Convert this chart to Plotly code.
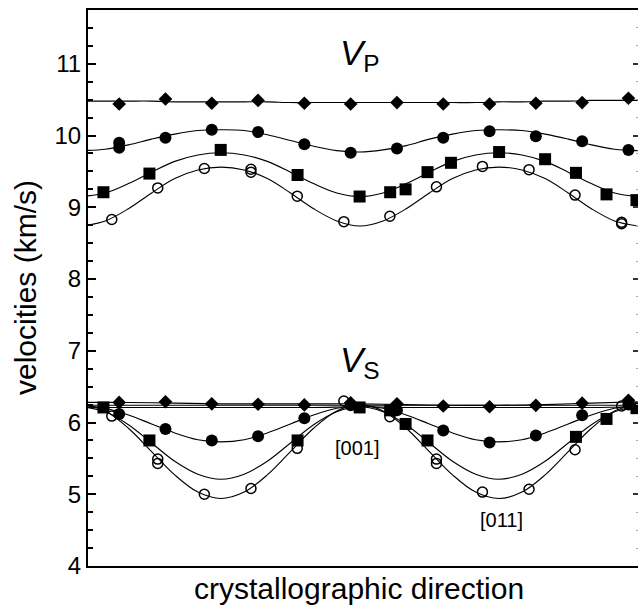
import plotly.graph_objects as go

# ---- measured markers (x = angle in degrees, [001] at 0) ----
ang15 = [-75, -60, -45, -30, -15, 0, 15, 30, 45, 60, 75, 90]

vp_diamond_y = [10.44, 10.51, 10.45, 10.49, 10.45, 10.44, 10.46, 10.44, 10.44, 10.45, 10.46, 10.52]

vp_fcirc_x = [-75, -75, -60, -45, -30, -15, 0, 15, 30, 45, 60, 75, 90]
vp_fcirc_y = [9.90, 9.83, 9.97, 10.08, 10.05, 9.88, 9.76, 9.82, 9.97, 10.06, 9.99, 9.92, 9.80]

sq_x = [-80.1, -65.2, -42.1, -17.2, 2.9, 12.8, 17.8, 24.9, 32.5, 48.1, 63.0, 73.0, 82.9, 92.6]
vp_sq_y = [9.21, 9.47, 9.80, 9.45, 9.15, 9.21, 9.25, 9.49, 9.62, 9.77, 9.67, 9.48, 9.18, 9.10]

vp_ocirc_x = [-77.4, -62.5, -47.4, -32.3, -32.3, -17.3, -2.2, 12.7, 27.8, 42.7, 57.8, 72.7, 87.8, 87.8]
vp_ocirc_y = [8.83, 9.27, 9.54, 9.53, 9.49, 9.155, 8.80, 8.875, 9.285, 9.57, 9.525, 9.17, 8.77, 8.79]

vs_diamond_y = [6.28, 6.29, 6.26, 6.255, 6.245, 6.275, 6.26, 6.23, 6.22, 6.24, 6.27, 6.31]
vs_fcirc_y = [6.12, 5.91, 5.75, 5.81, 6.06, 6.24, 6.17, 5.89, 5.72, 5.82, 6.10, 6.25]

vs_sq_x = [-80.1, -65.2, -17.2, 2.9, 12.8, 17.8, 24.9, 73.0, 82.9, 92.6]
vs_sq_y = [6.21, 5.75, 5.75, 6.21, 6.17, 5.98, 5.75, 5.80, 6.05, 6.20]

vs_ocirc_x = [-77.4, -62.5, -62.5, -47.4, -32.3, -17.3, -2.2, 12.7, 27.8, 27.8, 42.7, 57.8, 72.7, 87.8]
vs_ocirc_y = [6.09, 5.49, 5.43, 5.00, 5.08, 5.64, 6.30, 6.08, 5.49, 5.43, 5.03, 5.07, 5.62, 6.23]

# ---- fitted curves ----
curve_x = [-87, -79.5, -72, -64.5, -57, -49.5, -42, -34.5, -27, -19.5, -12, -4.5, 3,
           10.5, 18, 25.5, 33, 40.5, 48, 55.5, 63, 70.5, 78, 85.5, 93]
vp_diamond_curve = [10.48, 10.48, 10.48, 10.48, 10.47, 10.47, 10.47, 10.47, 10.47, 10.46, 10.46, 10.46, 10.46,
                    10.46, 10.46, 10.46, 10.46, 10.46, 10.47, 10.47, 10.48, 10.48, 10.49, 10.49, 10.49]
vp_fcirc_curve = [9.79, 9.81, 9.87, 9.95, 10.02, 10.07, 10.08, 10.07, 10.01, 9.93, 9.85, 9.79, 9.77,
                  9.80, 9.86, 9.95, 10.02, 10.07, 10.08, 10.07, 10.02, 9.95, 9.87, 9.81, 9.79]
vp_sq_curve = [9.15, 9.20, 9.33, 9.49, 9.64, 9.73, 9.76, 9.73, 9.64, 9.49, 9.33, 9.20, 9.15,
               9.20, 9.33, 9.49, 9.64, 9.73, 9.76, 9.73, 9.64, 9.49, 9.33, 9.20, 9.15]
vp_ocirc_curve = [8.74, 8.81, 8.98, 9.20, 9.40, 9.52, 9.56, 9.52, 9.40, 9.20, 8.98, 8.81, 8.74,
                  8.81, 8.98, 9.20, 9.40, 9.52, 9.56, 9.52, 9.40, 9.20, 8.98, 8.81, 8.74]
vs_fcirc_curve = [6.23, 6.20, 6.105, 5.98, 5.855, 5.76, 5.73, 5.76, 5.855, 5.98, 6.105, 6.20, 6.23,
                  6.20, 6.105, 5.98, 5.855, 5.76, 5.73, 5.76, 5.855, 5.98, 6.105, 6.20, 6.23]
vs_sq_curve = [6.22, 6.15, 5.97, 5.715, 5.46, 5.28, 5.21, 5.28, 5.46, 5.715, 5.97, 6.15, 6.22,
               6.15, 5.97, 5.715, 5.46, 5.28, 5.21, 5.28, 5.46, 5.715, 5.97, 6.15, 6.22]
vs_ocirc_curve = [6.25, 6.16, 5.92, 5.595, 5.27, 5.03, 4.94, 5.03, 5.27, 5.595, 5.92, 6.16, 6.25,
                  6.16, 5.92, 5.595, 5.27, 5.03, 4.94, 5.03, 5.27, 5.595, 5.92, 6.16, 6.25]

flat_x = [-87, -72, -57, -42, -27, -12, 3, 18, 33, 48, 63, 78, 93]
vs_diamond_curve = [6.28, 6.28, 6.27, 6.26, 6.26, 6.26, 6.26, 6.25, 6.24, 6.24, 6.25, 6.27, 6.29]
vs_fast_a = [6.24, 6.24, 6.24, 6.24, 6.24, 6.24, 6.24, 6.24, 6.24, 6.24, 6.24, 6.24, 6.24]
vs_fast_b = [6.21, 6.21, 6.21, 6.21, 6.21, 6.21, 6.22, 6.21, 6.21, 6.21, 6.21, 6.21, 6.22]

y_ticks = [4, 5, 6, 7, 8, 9, 10, 11]

FONT = "Arial, Liberation Sans, sans-serif"
fig = go.Figure()

def line(x, y, shape="spline"):
    fig.add_trace(go.Scatter(x=x, y=y, mode="lines", line=dict(color="black", width=1.1, shape=shape),
                             showlegend=False, hoverinfo="skip"))

for c in [vp_diamond_curve, vp_fcirc_curve, vp_sq_curve, vp_ocirc_curve,
          vs_fcirc_curve, vs_sq_curve, vs_ocirc_curve]:
    line(curve_x, c)
for c in [vs_diamond_curve, vs_fast_a, vs_fast_b]:
    line(flat_x, c)

def pts(x, y, symbol, size, lw=0):
    fig.add_trace(go.Scatter(x=x, y=y, mode="markers", showlegend=False, hoverinfo="skip",
                             marker=dict(symbol=symbol, size=size, color="black",
                                         line=dict(color="black", width=lw))))

pts(ang15, vp_diamond_y, "diamond", 10.5)
pts(vp_fcirc_x, vp_fcirc_y, "circle", 12)
pts(sq_x, vp_sq_y, "square", 12)
pts(vp_ocirc_x, vp_ocirc_y, "circle-open", 10, 1.5)
pts(ang15, vs_diamond_y, "diamond", 10.5)
pts(ang15, vs_fcirc_y, "circle", 12)
pts(vs_sq_x, vs_sq_y, "square", 12)
pts(vs_ocirc_x, vs_ocirc_y, "circle-open", 10, 1.5)

# dummy trace for right-hand tick axis
fig.add_trace(go.Scatter(x=[0], y=[5], yaxis="y2", mode="markers", marker=dict(opacity=0),
                         showlegend=False, hoverinfo="skip"))

annots = [
    (3, 11.12, "<i>V</i><sub>P</sub>", 35),
    (3, 6.84, "<i>V</i><sub>S</sub>", 35),
    (1.9, 5.64, "[001]", 20),
    (48.9, 4.64, "[011]", 20),
]
for ax, ay, txt, sz in annots:
    fig.add_annotation(x=ax, y=ay, xref="x", yref="y", text=txt, showarrow=False,
                       xanchor="center", yanchor="middle", font=dict(family=FONT, color="black", size=sz))

fig.add_annotation(x=-0.1145, y=0.5, xref="paper", yref="paper", text="velocities (km/s)", textangle=-90,
                   showarrow=False, xanchor="center", yanchor="middle",
                   font=dict(family=FONT, size=30, color="black"))
fig.add_annotation(x=0.493, y=-0.0396, xref="paper", yref="paper", text="crystallographic direction",
                   showarrow=False, xanchor="center", yanchor="middle",
                   font=dict(family=FONT, size=30, color="black"))

fig.update_layout(
    width=639, height=607,
    margin=dict(l=88, r=1, t=10, b=41),
    paper_bgcolor="white", plot_bgcolor="white",
    font=dict(family=FONT, color="black"),
    xaxis=dict(range=[-85.1, 93.1], showline=True, mirror=True, linecolor="black", linewidth=2,
               ticks="", showticklabels=False, showgrid=False, zeroline=False),
    yaxis=dict(range=[4, 11.75], showline=True, mirror=False, linecolor="black", linewidth=2,
               ticks="inside", ticklen=8, tickwidth=2, tickcolor="black",
               tickvals=y_ticks, ticktext=[str(v) for v in y_ticks],
               tickfont=dict(size=24, family=FONT, color="black"),
               minor=dict(ticks="inside", ticklen=5, tickwidth=1.5, tickcolor="black", dtick=0.25, showgrid=False),
               showgrid=False, zeroline=False),
    yaxis2=dict(range=[4, 11.75], overlaying="y", side="right", showline=False,
                linecolor="rgba(0,0,0,0)", mirror=False,
                ticks="inside", ticklen=5, tickwidth=1.5, tickcolor="#333", tickvals=y_ticks,
                showticklabels=False, showgrid=False, zeroline=False,
                minor=dict(ticks="inside", ticklen=2, tickwidth=1, tickcolor="#aaa", dtick=0.25, showgrid=False)),
)

fig.write_html("out.html", config={"displayModeBar": False},
               post_script="document.body.style.margin='0px';document.body.style.overflow='hidden';")
